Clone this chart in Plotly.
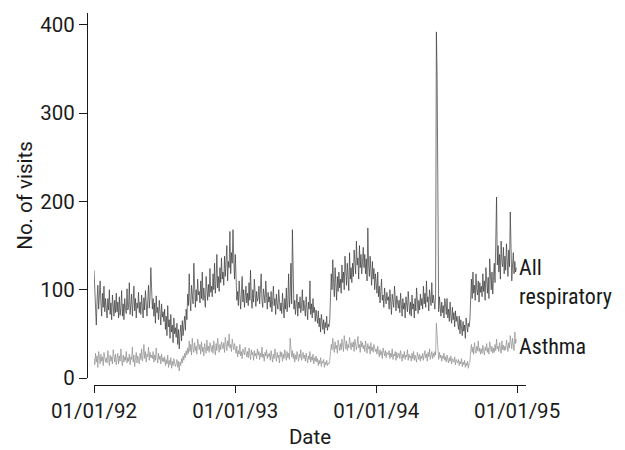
import numpy as np
import pandas as pd
import plotly.graph_objects as go

# ---- Data (~2-day resolution, month by month) ----
resp_1992 = [
    122, 95, 72, 60, 88, 105, 78, 92, 110, 85, 70, 96, 80, 104, 75, 90,
    82, 68, 90, 77, 100, 72, 85, 66, 94, 79, 70, 88, 74, 96,
    75, 86, 68, 92, 71, 80, 99, 70, 84, 66, 90, 78, 73, 101, 77,
    80, 108, 72, 88, 95, 70, 83, 104, 76, 90, 68, 85, 79, 97, 74,
    86, 72, 94, 80, 68, 91, 77, 99, 83, 70, 88, 105, 79, 92, 125, 84,
    78, 90, 70, 85, 62, 93, 74, 80, 66, 88, 71, 60, 84, 69, 75,
    64, 78, 55, 70, 48, 82, 58, 66, 45, 72, 52, 60, 40, 68, 50, 57,
    46, 62, 38, 55, 33, 50, 60, 42, 65, 48, 58, 70, 54, 78, 66,
    95, 82, 118, 88, 76, 105, 90, 84, 130, 92, 80, 100, 87, 112, 94,
    98, 85, 110, 90, 120, 88, 102, 93, 80, 115, 96, 88, 106, 92, 124, 97,
    104, 92, 118, 100, 130, 96, 110, 140, 102, 115, 98, 125, 108, 136, 112,
    120, 105, 138, 115, 128, 150, 110, 132, 125, 166, 118, 142, 130, 168, 135, 112,
]
resp_1993 = [
    140, 105, 88, 98, 82, 110, 90, 78, 95, 115, 86, 100, 80, 92, 104, 85,
    96, 82, 108, 88, 122, 90, 79, 100, 86, 112, 93, 81, 98, 87,
    90, 104, 84, 96, 118, 88, 80, 101, 92, 85, 110, 89, 78, 97, 86,
    92, 80, 98, 75, 88, 104, 82, 90, 72, 95, 84, 78, 100, 86, 76,
    85, 73, 96, 80, 68, 90, 78, 102, 75, 86, 118, 80, 92, 130, 84, 168,
    96, 78, 88, 72, 84, 95, 70, 86, 79, 92, 74, 82, 100, 76, 88,
    80, 70, 92, 75, 66, 86, 78, 110, 72, 84, 68, 90, 74, 80, 64, 77,
    70, 62, 76, 58, 68, 52, 72, 60, 55, 66, 50, 63, 57, 70, 54, 61,
    58, 66, 95, 118, 100, 134, 108, 92, 125, 104, 88, 115, 98, 120, 102,
    112, 96, 128, 108, 120, 100, 138, 115, 105, 130, 118, 99, 142, 112, 125, 108,
    130, 115, 145, 122, 118, 155, 128, 136, 112, 150, 125, 140, 118, 132, 148,
    125, 140, 118, 135, 110, 170, 128, 115, 138, 120, 105, 132, 112, 124, 100, 118,
]
resp_1994 = [
    110, 96, 120, 92, 104, 85, 98, 112, 88, 94, 80, 102, 90, 84, 97, 88,
    92, 78, 100, 84, 72, 95, 86, 80, 104, 82, 76, 93, 85, 79,
    88, 74, 96, 82, 70, 90, 78, 85, 68, 92, 80, 75, 98, 83, 72,
    86, 70, 94, 78, 84, 68, 90, 76, 102, 80, 73, 88, 77, 95, 82,
    90, 78, 104, 84, 96, 80, 110, 86, 92, 76, 100, 88, 82, 108, 85, 94,
    86, 78, 96, 392, 340, 88, 75, 92, 80, 70, 86, 74, 82, 68, 90,
    84, 72, 90, 68, 78, 64, 86, 70, 62, 80, 66, 74, 58, 76, 64, 70,
    62, 55, 70, 50, 66, 58, 48, 64, 53, 60, 45, 68, 56, 52, 62, 58,
    66, 98, 112, 90, 120, 96, 105, 88, 118, 100, 94, 110, 86, 108, 97,
    104, 92, 118, 98, 110, 88, 125, 102, 96, 114, 90, 135, 106, 100, 120, 95,
    115, 130, 108, 145, 205, 128, 150, 120, 140, 112, 155, 132, 126, 148, 118,
    138, 122, 152, 130, 115, 145, 126, 188, 135, 110, 128, 142, 118, 132, 120, 125,
]

asthma_1992 = [
    22, 15, 28, 18, 25, 12, 30, 20, 16, 27, 19, 24, 14, 29, 21, 18,
    23, 17, 31, 20, 14, 26, 19, 24, 16, 32, 21, 18, 27, 15,
    22, 28, 16, 25, 19, 33, 21, 14, 26, 18, 24, 20, 30, 17, 23,
    19, 27, 15, 24, 21, 35, 18, 26, 13, 22, 29, 17, 25, 20, 16,
    28, 21, 33, 19, 26, 38, 22, 30, 18, 27, 24, 35, 20, 29, 23, 26,
    22, 30, 18, 26, 20, 34, 24, 17, 28, 21, 25, 16, 27, 19, 23,
    18, 24, 14, 21, 16, 26, 12, 20, 15, 23, 11, 19, 14, 22, 17, 13,
    16, 21, 12, 19, 8, 18, 14, 22, 17, 25, 20, 28, 23, 31, 26,
    34, 28, 42, 30, 38, 26, 45, 33, 29, 40, 31, 36, 27, 44, 35,
    32, 38, 27, 41, 30, 35, 25, 39, 33, 28, 43, 31, 36, 29, 40, 34,
    30, 37, 28, 42, 33, 26, 39, 31, 45, 34, 29, 38, 32, 41, 35,
    33, 40, 29, 46, 35, 31, 42, 36, 50, 34, 38, 30, 44, 37, 32, 39,
]
asthma_1993 = [
    34, 28, 36, 24, 31, 27, 38, 25, 30, 22, 33, 28, 26, 35, 29, 24,
    30, 23, 34, 27, 21, 32, 26, 29, 20, 31, 25, 28, 22, 33,
    26, 30, 21, 28, 24, 35, 23, 27, 19, 29, 25, 32, 22, 27, 24,
    28, 20, 31, 24, 18, 27, 22, 33, 25, 19, 29, 23, 26, 17, 30,
    24, 29, 19, 27, 22, 32, 25, 20, 30, 23, 28, 21, 45, 26, 24, 31,
    22, 28, 18, 26, 21, 30, 24, 19, 27, 23, 32, 20, 25, 29, 22,
    26, 19, 28, 22, 17, 25, 21, 30, 18, 24, 20, 27, 16, 23, 19, 25,
    18, 22, 14, 20, 16, 23, 13, 19, 17, 21, 12, 18, 15, 20, 14, 17,
    16, 20, 30, 38, 32, 45, 35, 29, 41, 33, 37, 28, 43, 34, 31,
    39, 32, 44, 35, 30, 48, 36, 33, 42, 31, 38, 34, 46, 37, 32, 40,
    35, 41, 30, 44, 36, 32, 39, 47, 34, 38, 29, 42, 35, 40, 33,
    37, 30, 42, 34, 28, 39, 33, 36, 27, 40, 31, 35, 29, 38, 32, 30,
]
asthma_1994 = [
    33, 27, 36, 29, 24, 32, 26, 30, 22, 34, 28, 25, 31, 23, 29, 27,
    26, 31, 22, 28, 24, 33, 21, 27, 25, 30, 20, 29, 23, 26,
    28, 22, 31, 25, 19, 27, 23, 30, 21, 26, 24, 32, 20, 27, 23,
    25, 19, 28, 22, 30, 20, 26, 23, 18, 29, 24, 21, 27, 19, 25,
    22, 28, 20, 26, 31, 23, 27, 19, 29, 24, 33, 21, 26, 30, 22, 28,
    24, 30, 26, 62, 48, 27, 21, 29, 23, 26, 19, 25, 22, 28, 20,
    24, 18, 26, 21, 17, 23, 19, 25, 16, 22, 20, 18, 24, 15, 21, 19,
    17, 21, 14, 19, 16, 22, 13, 18, 15, 20, 12, 17, 14, 19, 11, 16,
    18, 30, 38, 29, 35, 27, 40, 32, 28, 36, 31, 42, 30, 34, 27,
    33, 28, 37, 30, 26, 35, 31, 39, 29, 34, 27, 41, 32, 30, 36, 28,
    34, 29, 38, 31, 44, 33, 36, 30, 40, 35, 28, 42, 32, 37, 31,
    36, 32, 43, 35, 30, 40, 34, 48, 38, 33, 45, 37, 31, 52, 39, 44,
]

tick_dates = ["1992-01-01", "1993-01-01", "1994-01-01", "1995-01-01"]
tick_labels = ["01/01/92", "01/01/93", "01/01/94", "01/01/95"]
y_ticks = [0, 100, 200, 300, 400]


def year_dates(year, values):
    start = pd.Timestamp(year, 1, 1)
    ndays = (pd.Timestamp(year + 1, 1, 1) - start).days
    step = ndays / len(values)
    return [start + pd.Timedelta(days=i * step) for i in range(len(values))]


def series(parts):
    xs, ys = [], []
    for year, vals in parts:
        xs += year_dates(year, vals)
        ys += vals
    return xs, ys


rx, ry = series([(1992, resp_1992), (1993, resp_1993), (1994, resp_1994)])
ax_, ay = series([(1992, asthma_1992), (1993, asthma_1993), (1994, asthma_1994)])

FONT = "Roboto, Liberation Sans, Arial, sans-serif"
FS = 20.5
LABEL_FONT = "Roboto Condensed, Roboto, Arial, sans-serif"

W, H = 625, 450
ML, MR, MT, MB = 80, 99, 13, 65
PW = W - ML - MR
PH = H - MT - MB

fig = go.Figure()
fig.add_trace(go.Scatter(x=ax_, y=ay, mode="lines",
                         line=dict(color="#8c8c8c", width=0.7), showlegend=False))
fig.add_trace(go.Scatter(x=rx, y=ry, mode="lines",
                         line=dict(color="#383838", width=0.7), showlegend=False))

fig.update_layout(
    width=W, height=H,
    margin=dict(l=ML, r=MR, t=MT, b=MB, autoexpand=False),
    paper_bgcolor="white", plot_bgcolor="white",
    font=dict(family=FONT, size=FS, color="#1a1a1a"),
    xaxis=dict(
        domain=[(94 - ML) / PW, 1],
        range=["1992-01-01", "1995-01-24"],
        tickvals=tick_dates, ticktext=tick_labels,
        ticks="outside", ticklen=7, tickwidth=1, tickcolor="#1a1a1a",
        showline=True, linecolor="#1a1a1a", linewidth=1,
        showgrid=False, zeroline=False,
        anchor="free", position=0, automargin=False,
        title=dict(text="Date", standoff=8, font=dict(size=FS)),
        tickfont=dict(size=FS),
    ),
    yaxis=dict(
        domain=[7 / PH, 1],
        range=[0, 413.4],
        tickvals=y_ticks,
        ticks="outside", ticklen=8, tickwidth=1, tickcolor="#1a1a1a",
        showline=True, linecolor="#1a1a1a", linewidth=1,
        showgrid=False, zeroline=False,
        anchor="free", position=(87 - ML) / PW, automargin=False,
        title=dict(text="No. of visits", standoff=1, font=dict(size=FS)),
        tickfont=dict(size=FS),
    ),
    annotations=[
        dict(text="All<br>respiratory", xref="paper", yref="paper",
             x=(517 - ML) / PW, y=(H - MB - 282) / PH, xanchor="left", yanchor="middle",
             align="left", showarrow=False,
             font=dict(family=LABEL_FONT, size=22)),
        dict(text="Asthma", xref="paper", yref="paper",
             x=(517 - ML) / PW, y=(H - MB - 346) / PH, xanchor="left", yanchor="middle",
             align="left", showarrow=False,
             font=dict(family=LABEL_FONT, size=22)),
    ],
)

fig.write_html("out.html", config={"displayModeBar": False},
               post_script="document.body.style.margin='0';")
